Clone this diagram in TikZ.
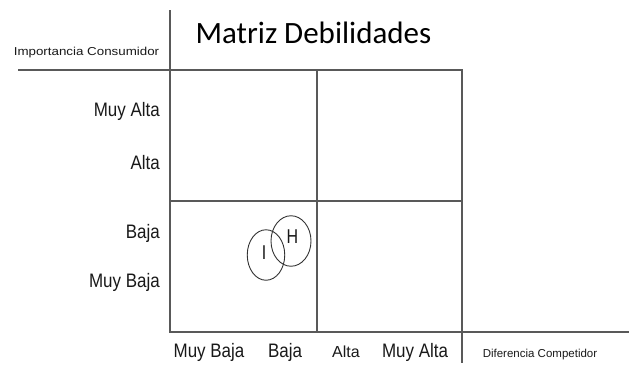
\documentclass[tikz,border=0pt]{standalone}
\usepackage{fontspec}
\usepackage{graphicx}
\setmainfont{Liberation Sans}
\newfontfamily\titlefont{Carlito}
\usetikzlibrary{shapes.geometric}
\newcommand{\narrowtext}[2][0.87]{\scalebox{#1}[1]{#2}}
\tikzset{
  gridline/.style={line width=1.4pt, black!65},
  axislabel/.style={inner sep=0pt, text=black!90, font=\fontsize{19.5}{20}\selectfont},
  smalllabel/.style={inner sep=0pt, text=black!90, font=\fontsize{11.5}{12}\selectfont},
  factor/.style={draw=black!80, line width=0.9pt, ellipse, inner sep=0pt},
  factorname/.style={inner sep=0pt, text=black!90, font=\fontsize{20}{20}\selectfont}
}
\begin{document}
\begin{tikzpicture}[x=1pt,y=-1pt]
  \useasboundingbox (0,0) rectangle (629,367);
  % grid
  \coordinate (top) at (170,10);
  \coordinate (nw) at (170,70);
  \coordinate (n) at (317,70);
  \coordinate (ne) at (462,70);
  \coordinate (w) at (170,201);
  \coordinate (e) at (462,201);
  \coordinate (sw) at (170,332);
  \coordinate (s) at (317,332);
  \coordinate (se) at (462,332);
  \coordinate (axisend) at (629,332);
  \coordinate (left) at (18,70);
  \coordinate (foot) at (462,363);
  \draw[gridline] (top) -- (sw) -- (axisend);
  \draw[gridline] (left) -- (ne) -- (foot);
  \draw[gridline] (n) -- (s);
  \draw[gridline] (w) -- (e);

  \node[anchor=base, inner sep=0pt, font=\titlefont\fontsize{31}{32}\selectfont] (title) at (313.5,43) {Matriz Debilidades};
  \node[smalllabel, anchor=base] (ylabel) at (86.5,55) {\narrowtext[1.16]{Importancia Consumidor}};
  \node[smalllabel, anchor=base] (xlabel) at (540,357) {\narrowtext[1.0]{Diferencia Competidor}};

  % eje vertical
  \node[axislabel, anchor=base east] (y4) at (160,116) {\narrowtext{Muy Alta}};
  \node[axislabel, anchor=base east] (y3) at (160,169) {\narrowtext{Alta}};
  \node[axislabel, anchor=base east] (y2) at (160,238) {\narrowtext{Baja}};
  \node[axislabel, anchor=base east] (y1) at (160,287) {\narrowtext{Muy Baja}};

  % eje horizontal
  \node[axislabel, anchor=base] (x1) at (209,357) {\narrowtext{Muy Baja}};
  \node[axislabel, anchor=base] (x2) at (285,357) {\narrowtext{Baja}};
  \node[axislabel, anchor=base, font=\fontsize{16}{16}\selectfont] (x3) at (346,357) {Alta};
  \node[axislabel, anchor=base] (x4) at (415,357) {\narrowtext{Muy Alta}};

  % factores
  \node[factor, minimum width=37.5pt, minimum height=50.5pt] (I) at (266,255) {};
  \node[factor, minimum width=40pt, minimum height=50.5pt] (H) at (291,241) {};
  \node[factorname] (Iname) at (264,253) {\narrowtext[0.8]{I}};
  \node[factorname] (Hname) at (292.5,236.5) {\narrowtext[0.8]{H}};
\end{tikzpicture}
\end{document}
